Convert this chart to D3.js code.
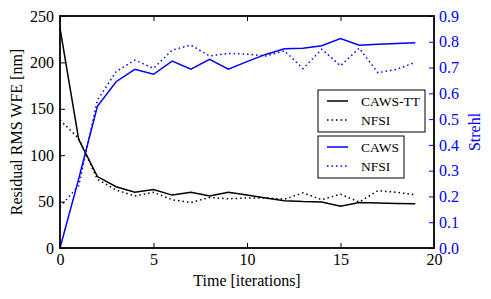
<!DOCTYPE html>
<html>
<head>
<meta charset="utf-8">
<script src="https://cdn.jsdelivr.net/npm/d3@7"></script>
<style>
  body { margin: 0; background: #fff; }
  svg text { font-family: "Liberation Serif", "DejaVu Serif", serif !important; }
</style>
</head>
<body>
<div class="canvas"></div>
<script>
// iterations 0..19
const iterations = d3.range(0, 20);

// residual RMS WFE [nm] (left axis)
const wfeCawsTT = [237, 117, 77, 66, 60, 63, 57, 60, 56, 60, 57, 54, 51, 50, 49.5, 45, 49, 48.5, 48, 47.7];
const wfeNfsi = [138, 118, 74, 62.5, 56, 60, 52, 49, 54.5, 53, 54, 54, 52.5, 59.5, 52, 58, 49.5, 61.8, 60, 57.4];

// Strehl (right axis)
const strehlCaws = [0, 0.268, 0.55, 0.645, 0.693, 0.674, 0.725, 0.694, 0.732, 0.694, 0.723, 0.751, 0.773, 0.775, 0.785, 0.813, 0.787, 0.79, 0.793, 0.796];
const strehlNfsi = [0.16, 0.242, 0.574, 0.684, 0.729, 0.697, 0.768, 0.787, 0.745, 0.755, 0.752, 0.745, 0.765, 0.696, 0.771, 0.707, 0.775, 0.68, 0.693, 0.72];

const xTicks = [0, 5, 10, 15, 20];
const leftTicks = [0, 50, 100, 150, 200, 250];
const rightTicks = [0, 0.1, 0.2, 0.3, 0.4, 0.5, 0.6, 0.7, 0.8, 0.9];

const dims = { width: 491, height: 299 };
const plot = { left: 60, right: 434, top: 16, bottom: 248 };
const blue = '#0000ff';
const serif = '"Liberation Serif", "DejaVu Serif", serif';

const svg = d3.select('.canvas')
    .append('svg')
    .attr('width', dims.width)
    .attr('height', dims.height);

const x = d3.scaleLinear().domain([0, 20]).range([plot.left, plot.right]);
const yL = d3.scaleLinear().domain([0, 250]).range([plot.bottom, plot.top]);
const yR = d3.scaleLinear().domain([0, 0.9]).range([plot.bottom, plot.top]);

// lines
const lineL = (vals) => d3.line().x((d, i) => x(iterations[i])).y(d => yL(d))(vals);
const lineR = (vals) => d3.line().x((d, i) => x(iterations[i])).y(d => yR(d))(vals);

const series = [
    { d: lineL(wfeCawsTT), colour: '#000', dash: null },
    { d: lineL(wfeNfsi), colour: '#000', dash: '1.5,3' },
    { d: lineR(strehlCaws), colour: blue, dash: null },
    { d: lineR(strehlNfsi), colour: blue, dash: '1.5,3' }
];

svg.selectAll('path.series')
    .data(series)
    .enter()
    .append('path')
        .attr('class', 'series')
        .attr('d', d => d.d)
        .attr('fill', 'none')
        .attr('stroke', d => d.colour)
        .attr('stroke-width', 1.5)
        .attr('stroke-dasharray', d => d.dash);

// axes (ticks point inward, like matplotlib classic)
const tickSize = 5;
svg.append('g')
    .attr('transform', `translate(0, ${plot.bottom})`)
    .call(d3.axisBottom(x).tickValues(xTicks).tickSizeInner(-tickSize).tickSizeOuter(0).tickPadding(6).tickFormat(d3.format('d')));
svg.append('g')
    .attr('transform', `translate(0, ${plot.top})`)
    .call(d3.axisTop(x).tickValues(xTicks).tickSizeInner(-tickSize).tickSizeOuter(0).tickFormat(''));
svg.append('g')
    .attr('transform', `translate(${plot.left}, 0)`)
    .call(d3.axisLeft(yL).tickValues(leftTicks).tickSizeInner(-tickSize).tickSizeOuter(0).tickPadding(6).tickFormat(d3.format('d')));
const rightAxis = svg.append('g')
    .attr('class', 'right')
    .attr('transform', `translate(${plot.right}, 0)`)
    .call(d3.axisRight(yR).tickValues(rightTicks).tickSizeInner(-tickSize).tickSizeOuter(0).tickPadding(5).tickFormat(d3.format('.1f')));

svg.selectAll('.domain').remove();
svg.selectAll('g').attr('font-family', serif).attr('font-size', 16);
svg.selectAll('.tick line').attr('stroke', '#000').attr('stroke-width', 1);
svg.selectAll('.tick text').attr('fill', '#000');
rightAxis.selectAll('.tick line').attr('stroke', blue);
rightAxis.selectAll('.tick text').attr('fill', blue);

// frame
svg.append('rect')
    .attr('x', plot.left)
    .attr('y', plot.top)
    .attr('width', plot.right - plot.left)
    .attr('height', plot.bottom - plot.top)
    .attr('fill', 'none')
    .attr('stroke', '#000')
    .attr('stroke-width', 1.8);

// axis labels
svg.append('text')
    .attr('x', (plot.left + plot.right) / 2)
    .attr('y', 286)
    .attr('text-anchor', 'middle')
    .style('font-size', '16px')
    .text('Time [iterations]');
svg.append('text')
    .attr('transform', `translate(22, ${(plot.top + plot.bottom) / 2}) rotate(-90)`)
    .attr('text-anchor', 'middle')
    .style('font-size', '16px')
    .text('Residual RMS WFE [nm]');
svg.append('text')
    .attr('transform', `translate(480, ${(plot.top + plot.bottom) / 2}) rotate(-90)`)
    .attr('text-anchor', 'middle')
    .attr('fill', blue)
    .style('font-size', '16px')
    .text('Strehl');

// legends
const legends = [
    { box: [318, 90, 107, 42], items: [['CAWS-TT', '#000', null], ['NFSI', '#000', '1.5,3']] },
    { box: [318, 136, 86, 42], items: [['CAWS', blue, null], ['NFSI', blue, '1.5,3']] }
];

legends.forEach(lg => {
    const [bx, by, bw, bh] = lg.box;
    const g = svg.append('g');
    g.append('rect')
        .attr('x', bx).attr('y', by)
        .attr('width', bw).attr('height', bh)
        .attr('fill', '#fff')
        .attr('stroke', '#000')
        .attr('stroke-width', 1);
    lg.items.forEach((it, i) => {
        const cy = by + 11 + i * 19;
        g.append('line')
            .attr('x1', bx + 9).attr('x2', bx + 30)
            .attr('y1', cy).attr('y2', cy)
            .attr('stroke', it[1])
            .attr('stroke-width', 1.5)
            .attr('stroke-dasharray', it[2]);
        g.append('text')
            .attr('x', bx + 43)
            .attr('y', cy + 4.5)
            .style('font-size', '13.5px')
            .text(it[0]);
    });
});
</script>
</body>
</html>
